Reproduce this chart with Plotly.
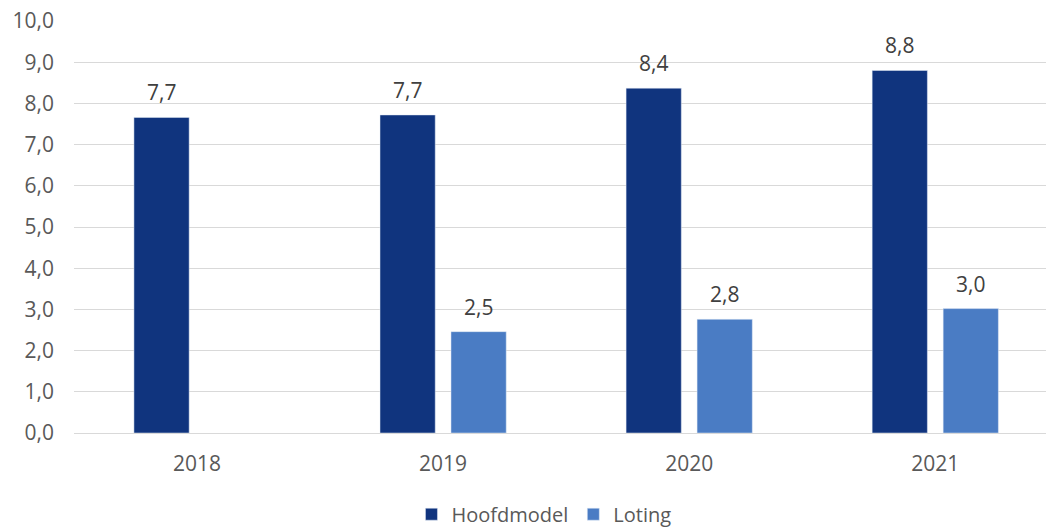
import plotly.graph_objects as go

years = ["2018", "2019", "2020", "2021"]
hoofdmodel = [7.66, 7.72, 8.37, 8.80]
loting = [None, 2.46, 2.76, 3.02]
y_ticks = [0, 1, 2, 3, 4, 5, 6, 7, 8, 9, 10]

C_HOOFD = "#10347e"
C_LOT = "#4a7cc4"
FONT = "Open Sans"
FS = 21

fig = go.Figure()
fig.add_bar(name="Hoofdmodel", x=years, y=hoofdmodel, marker_color=C_HOOFD, hoverinfo="skip")
fig.add_bar(name="Loting", x=years, y=loting, marker_color=C_LOT, hoverinfo="skip")

# data labels above the bars (grouped offsets follow the bar layout)
bargap = 0.423
slot = (1 - bargap) / 2
px_per_cat = 972 / 3.95
offset_px = slot / 2 * px_per_cat
annotations = []
for series, sign in ((hoofdmodel, -1), (loting, 1)):
    for i, v in enumerate(series):
        if v is None:
            continue
        annotations.append(dict(
            x=i, y=v, xref="x", yref="y", text=f"{v:.1f}".replace(".", ","),
            showarrow=False, yanchor="bottom", yshift=9, xshift=sign * offset_px,
            font=dict(family=FONT, size=FS, color="#404040"),
        ))

fig.update_layout(
    width=1046, height=529,
    margin=dict(l=74, r=0, t=21, b=96, autoexpand=False),
    paper_bgcolor="white", plot_bgcolor="white",
    barmode="group", bargap=bargap, bargroupgap=0.222,
    separators=",.",
    font=dict(family=FONT, size=FS, color="#595959"),
    annotations=annotations,
    legend=dict(orientation="h", x=0.4835, xanchor="center", y=0.028, yref="container",
                yanchor="middle", font=dict(family=FONT, size=20, color="#595959"),
                itemwidth=30),
    showlegend=True,
)
fig.update_xaxes(type="category", range=[-0.5, 3.45], showgrid=False, showline=False,
                 ticks="", ticklabelstandoff=16, tickfont=dict(size=FS, color="#595959"))
fig.update_yaxes(range=[0, 10], tickvals=y_ticks, tickformat=".1f", showgrid=True,
                 gridcolor="#d9d9d9", gridwidth=1, zeroline=True, zerolinecolor="#d9d9d9",
                 zerolinewidth=1, showline=False, ticks="", ticklabelstandoff=19,
                 tickfont=dict(size=FS, color="#595959"))

fig.write_html("out.html", config={"displayModeBar": False},
               post_script="document.body.style.margin='0px';document.body.style.overflow='hidden';")
